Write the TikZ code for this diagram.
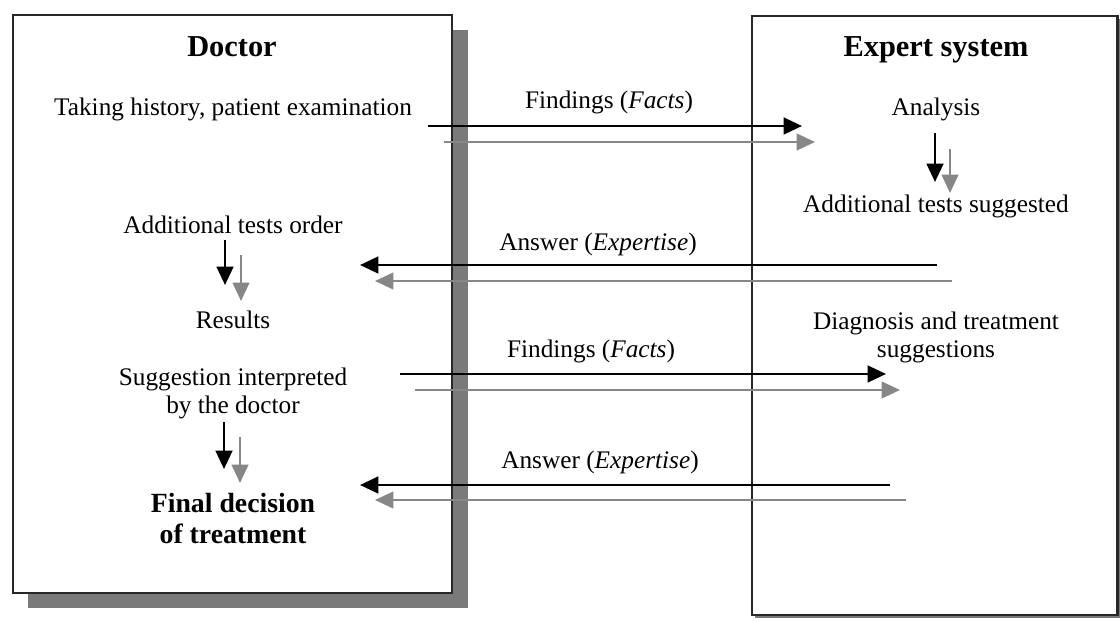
\documentclass[tikz,border=0pt]{standalone}
\usepackage{fontspec}
\setmainfont{Liberation Serif}
\usepackage{xcolor}
\definecolor{shadowgray}{RGB}{122,122,122}
\definecolor{arrowgray}{RGB}{135,135,135}
\definecolor{edge}{RGB}{40,40,40}
\usetikzlibrary{arrows.meta}

\begin{document}
\begin{tikzpicture}[x=0.02cm, y=-0.02cm,
    panel/.style={draw=edge, line width=1.7pt, fill=white},
    txt/.style={font=\fontsize{14.4}{15.9}\selectfont, align=center, anchor=base, inner sep=0pt},
    headtxt/.style={font=\fontsize{17.3}{19}\selectfont\bfseries, anchor=base, inner sep=0pt},
    darkflow/.style={line width=1.6pt, black, -{Triangle[length=10.5pt, width=9.5pt]}},
    greyflow/.style={line width=1.3pt, arrowgray, -{Triangle[length=10.5pt, width=9.5pt]}}]
    \useasboundingbox (0,0) rectangle (1120,622);

    % Doctor panel with shadow
    \fill[shadowgray] (28,30) rectangle (468,608);
    \filldraw[panel] (13,15) rectangle (452,593);

    % Expert system panel
    \fill[shadowgray] (755,19) rectangle (1120,618);
    \filldraw[panel] (752,16) rectangle (1117,615);

    % Doctor side (base = last line)
    \node[headtxt] (doctor) at (232,56) {Doctor};
    \node[txt] (history) at (233,115) {Taking history, patient examination};
    \node[txt] (order) at (233,233) {Additional tests order};
    \node[txt] (results) at (233,328) {Results};
    \node[txt] (interp) at (233,413) {Suggestion interpreted\\by the doctor};
    \node[txt, font=\fontsize{15.8}{17.6}\selectfont\bfseries] (final) at (233,543) {Final decision\\of treatment};

    % Expert system side
    \node[headtxt] (expert) at (936,56) {Expert system};
    \node[txt] (analysis) at (936,115) {Analysis};
    \node[txt] (suggested) at (936,212) {Additional tests suggested};
    \node[txt] (diagnosis) at (936,357) {Diagnosis and treatment\\suggestions};

    % Exchange labels
    \node[txt] (facts1) at (609,108) {Findings (\textit{Facts})};
    \node[txt] (answer1) at (598,250) {Answer (\textit{Expertise})};
    \node[txt] (facts2) at (591,357) {Findings (\textit{Facts})};
    \node[txt] (answer2) at (600,468) {Answer (\textit{Expertise})};

    % End points of the exchanges
    \coordinate (f1a) at (428,126);  \coordinate (f1b) at (802,126);
    \coordinate (f1c) at (444,142);  \coordinate (f1d) at (815,142);
    \coordinate (a1a) at (937,265);  \coordinate (a1b) at (360,265);
    \coordinate (a1c) at (952,281);  \coordinate (a1d) at (375,281);
    \coordinate (f2a) at (400,374);  \coordinate (f2b) at (886,374);
    \coordinate (f2c) at (415,390);  \coordinate (f2d) at (900,390);
    \coordinate (a2a) at (890,485);  \coordinate (a2b) at (360,485);
    \coordinate (a2c) at (906,500);  \coordinate (a2d) at (375,500);

    \draw[darkflow] (f1a) -- (f1b);
    \draw[greyflow] (f1c) -- (f1d);
    \draw[darkflow] (a1a) -- (a1b);
    \draw[greyflow] (a1c) -- (a1d);
    \draw[darkflow] (f2a) -- (f2b);
    \draw[greyflow] (f2c) -- (f2d);
    \draw[darkflow] (a2a) -- (a2b);
    \draw[greyflow] (a2c) -- (a2d);

    % Steps inside the panels
    \coordinate (s1a) at (935,133);  \coordinate (s1b) at (935,182);
    \coordinate (s1c) at (950,149);  \coordinate (s1d) at (950,193);
    \coordinate (s2a) at (225,240);  \coordinate (s2b) at (225,285);
    \coordinate (s2c) at (241,255);  \coordinate (s2d) at (241,301);
    \coordinate (s3a) at (224,422);  \coordinate (s3b) at (224,469);
    \coordinate (s3c) at (240,437);  \coordinate (s3d) at (240,483);

    \draw[darkflow] (s1a) -- (s1b);
    \draw[greyflow] (s1c) -- (s1d);
    \draw[darkflow] (s2a) -- (s2b);
    \draw[greyflow] (s2c) -- (s2d);
    \draw[darkflow] (s3a) -- (s3b);
    \draw[greyflow] (s3c) -- (s3d);
\end{tikzpicture}
\end{document}
